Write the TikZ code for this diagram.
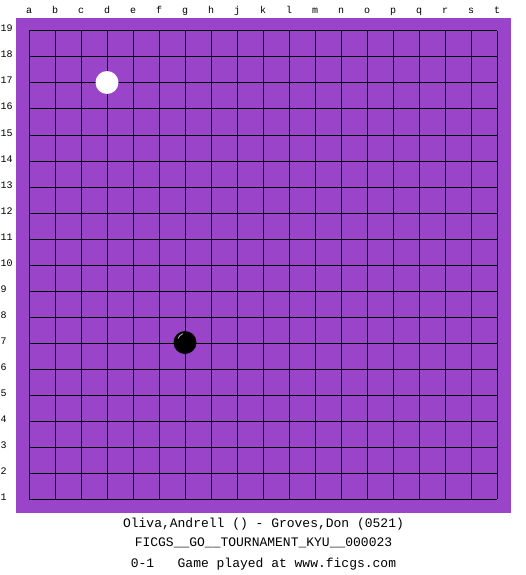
\documentclass[tikz,border=0pt]{standalone}
\usepackage{fontspec}
\setmonofont{Liberation Mono}
\usepackage{tikz}
\usetikzlibrary{positioning}
\definecolor{goban}{RGB}{154,68,202}

\tikzset{
	coord/.style={font=\ttfamily\fontsize{10}{10}\selectfont,inner sep=0pt},
	legend/.style={font=\ttfamily\fontsize{13}{13}\selectfont,inner sep=0pt},
	stone/.style={circle,inner sep=0pt,minimum size=23pt}
}

\begin{document}
\begin{tikzpicture}[x=1pt,y=-1pt]
		\useasboundingbox (0,0) rectangle (525,575);
		\fill[goban] (16,18) rectangle (511,513);
		% grille
		\foreach \i in {0,...,18} {
			\draw[line width=1pt] (29+26*\i,31) -- (29+26*\i,499);
			\draw[line width=1pt] (29,31+26*\i) -- (497,31+26*\i);
		}
		% coordonnees
		\foreach \colname [count=\i from 0] in {a,b,c,d,e,f,g,h,j,k,l,m,n,o,p,q,r,s,t}
			\node(col\colname) [coord,anchor=base] at (29+26*\i,14) {\colname};
		\foreach \rownum in {1,...,19}
			\node(row\rownum) [coord,anchor=base west] at (0.5,32+26*19-26*\rownum) {\rownum};
		% pierres
		\node(d17) [stone,fill=white] at (107,82.5) {};
		\node(g7) [stone,fill=black] at (185,342.5) {};
		\draw[white!75!black,line width=0.8pt] ([shift={(-7,-4)}]g7.center) arc (200:250:8);
		% legende
		\node(players) [legend,anchor=base] at (263.5,527) {Oliva,Andrell () - Groves,Don (0521)};
		\node(event) [legend,anchor=base] at (263.5,546.5) {FICGS\_\_GO\_\_TOURNAMENT\_KYU\_\_000023};
		\node(result) [legend,anchor=base] at (263.5,567) {0-1\ \ \ Game played at www.ficgs.com};
	\end{tikzpicture}
\end{document}
